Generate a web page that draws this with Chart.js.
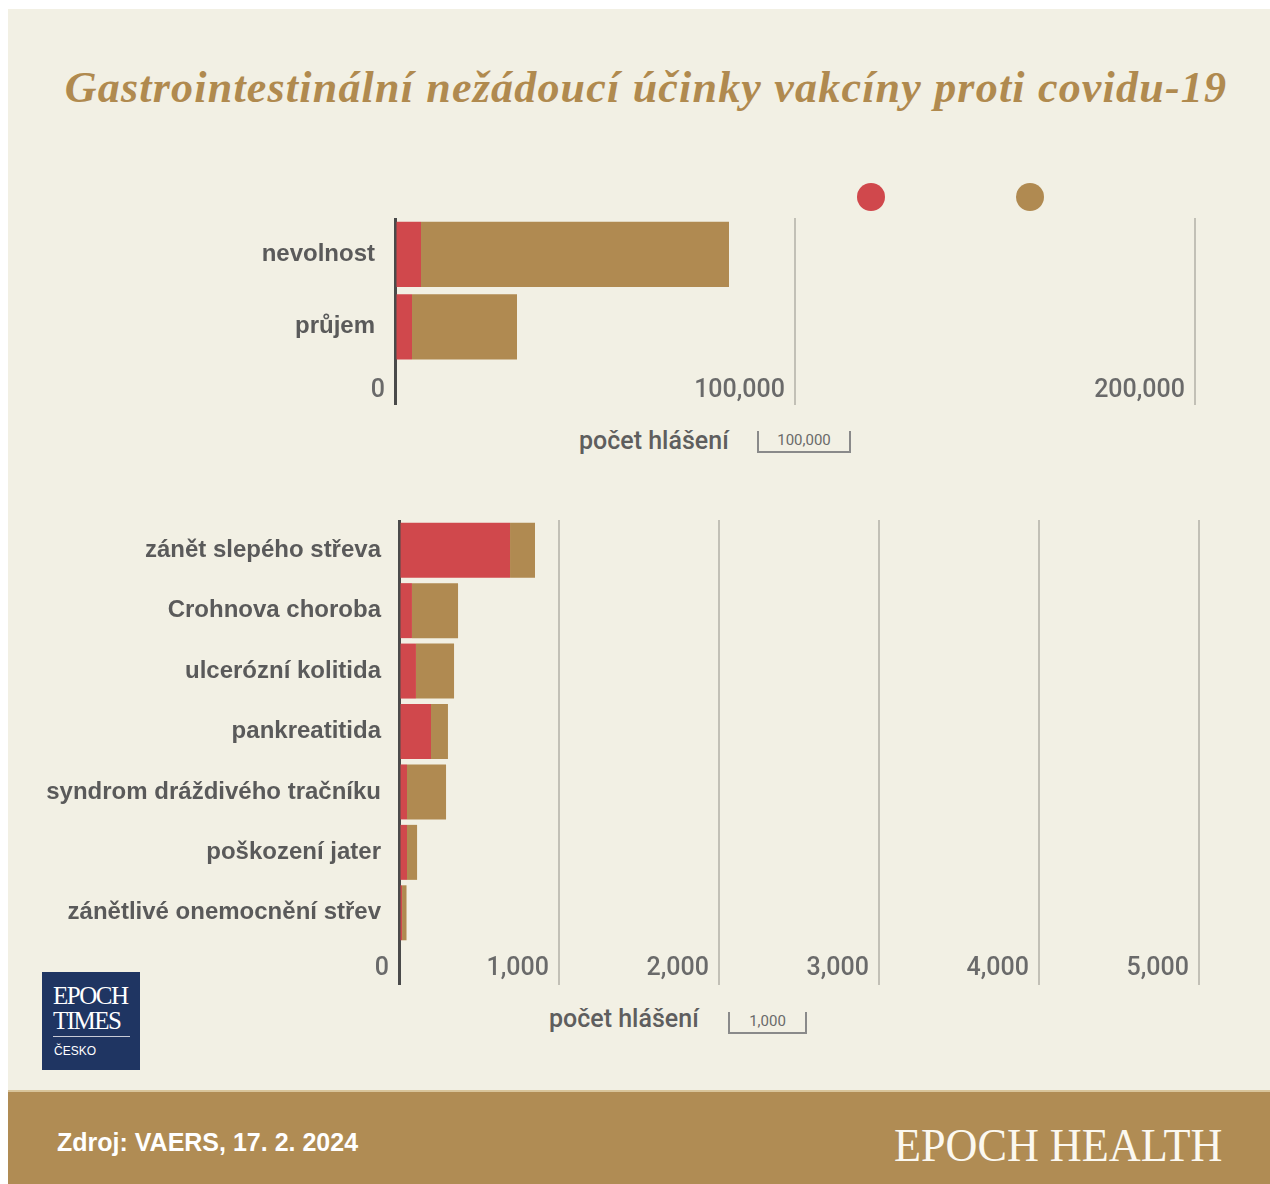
<!DOCTYPE html>
<html lang="cs">
<head>
<meta charset="utf-8">
<script src="https://cdn.jsdelivr.net/npm/chart.js@4/dist/chart.umd.min.js"></script>
<style>
  body { margin: 0; background: #fff; width: 1270px; height: 1184px; position: relative; overflow: hidden; }
  .page { position: absolute; left: 8px; top: 9px; width: 1262px; height: 1081px; background: #f2f0e4; }
  .title { position: absolute; left: 0; top: 62px; width: 1292px; text-align: center; font-family: "Liberation Serif", serif;
    font-weight: bold; font-style: italic; font-size: 44px; letter-spacing: 1.2px; color: #b08a4f; }
  .box { position: absolute; }
  .dot { position: absolute; width: 28px; height: 28px; border-radius: 50%; }
  .axtitle { position: absolute; font-family: Roboto, sans-serif; font-weight: 500; font-size: 25px; color: #5e5e5e; }
  .bracket { position: absolute; border: 2px solid #8a8a8a; border-top: none; font-family: Roboto, sans-serif;
    font-size: 15px; color: #6a6a6a; text-align: center; line-height: 18px; }
  .logo { position: absolute; left: 42px; top: 972px; width: 98px; height: 98px; background: #1f3562; color: #fff; }
  .logo .w { position: absolute; left: 11px; font-family: "Liberation Serif", serif; font-size: 25px; letter-spacing: -1.5px; line-height: 25px; }
  .logo .ln { position: absolute; left: 11px; top: 64px; width: 77px; height: 1px; background: #c8cbd6; }
  .logo .c { position: absolute; left: 12px; top: 72px; font-family: "Liberation Sans", sans-serif; font-size: 12px; }
  .footer { position: absolute; left: 8px; top: 1090px; width: 1262px; height: 94px; background: #b08c54; border-top: 2px solid #d8c49a; box-sizing: border-box; }
  .src { position: absolute; left: 49px; top: 36px; font-family: "Liberation Sans", sans-serif; font-weight: bold; font-size: 25px; color: #fff; }
  .eh { position: absolute; right: 48px; top: 26px; font-family: "Liberation Serif", serif; font-size: 47px; color: #fbf8f0;
    transform: scaleX(0.94); transform-origin: right center; }
</style>
</head>
<body>
<div class="page"></div>
<div class="title">Gastrointestinální nežádoucí účinky vakcíny proti covidu-19</div>

<div class="dot" id="dot1" style="left:857px; top:183px;"></div>
<div class="dot" id="dot2" style="left:1016px; top:183px;"></div>

<div class="box" style="left:8px; top:200px; width:1230px; height:215px;"><canvas id="chartTop"></canvas></div>
<div class="axtitle" style="left:579px; top:426px;">počet hlášení</div>
<div class="bracket" style="left:757px; top:431px; width:90px; height:20px;">100,000</div>

<div class="box" style="left:8px; top:500px; width:1230px; height:500px;"><canvas id="chartBottom"></canvas></div>
<div class="axtitle" style="left:549px; top:1004px;">počet hlášení</div>
<div class="bracket" style="left:728px; top:1012px; width:75px; height:20px;">1,000</div>

<div class="logo">
  <div class="w" style="top:11px;">EPOCH</div>
  <div class="w" style="top:36px;">TIMES</div>
  <div class="ln"></div>
  <div class="c">ČESKO</div>
</div>

<div class="footer">
  <div class="src">Zdroj: VAERS, 17. 2. 2024</div>
  <div class="eh">EPOCH HEALTH</div>
</div>

<script>
// colours
var RED = '#d0484c';
var GOLD = '#b08a51';

// data
var seriesNames = ['Série A', 'Série B'];

var topCategories = ['nevolnost', 'průjem'];
var topRed = [6500, 4250];
var topGold = [77000, 26250];
var topMax = 200000;
var topStep = 100000;

var bottomCategories = [
	'zánět slepého střeva',
	'Crohnova choroba',
	'ulcerózní kolitida',
	'pankreatitida',
	'syndrom dráždivého tračníku',
	'poškození jater',
	'zánětlivé onemocnění střev'
];
var bottomRed = [694, 81, 106, 200, 50, 50, 19];
var bottomGold = [156, 288, 238, 106, 244, 63, 28];
var bottomMax = 5000;
var bottomStep = 1000;

document.getElementById('dot1').style.background = RED;
document.getElementById('dot2').style.background = GOLD;

function fmt(v) {
	return Number(v).toLocaleString('en-US');
}

function makeChart(id, labels, red, gold, max, step, o) {
	var ctx = document.getElementById(id).getContext('2d');
	return new Chart(ctx, {
		type: 'bar',
		data: {
			labels: labels,
			datasets: [{
				label: seriesNames[0],
				data: red,
				backgroundColor: RED,
				borderWidth: 0
			}, {
				label: seriesNames[1],
				data: gold,
				backgroundColor: GOLD,
				borderWidth: 0
			}]
		},
		options: {
			indexAxis: 'y',
			responsive: true,
			maintainAspectRatio: false,
			animation: false,
			categoryPercentage: 1,
			barPercentage: o.barPct,
			layout: { padding: { top: o.padTop, right: o.padRight, left: 0, bottom: 0 } },
			plugins: {
				legend: { display: false },
				tooltip: { enabled: false }
			},
			scales: {
				x: {
					stacked: true,
					min: 0,
					max: max,
					border: { display: false },
					grid: {
						drawTicks: true,
						tickLength: 42,
						color: function(c) { return c.tick && c.tick.value === 0 ? '#4a4a4a' : '#c2c0b6'; },
						lineWidth: function(c) { return c.tick && c.tick.value === 0 ? 3 : 2; }
					},
					ticks: {
						stepSize: step,
						autoSkip: false,
						maxRotation: 0,
						align: 'end',
						labelOffset: -10,
						padding: o.tickPad,
						color: '#6a6a6a',
						font: { family: 'Roboto', size: 25, weight: '500' },
						callback: function(v) { return fmt(v); }
					},
					afterFit: function(s) {
						s.height = o.xHeight;
						s.paddingLeft = 0;
						s.paddingRight = 0;
					}
				},
				y: {
					stacked: true,
					border: { display: false },
					grid: { display: false, drawTicks: false },
					ticks: {
						padding: o.labelPad,
						color: '#5a5a5a',
						font: { family: 'Liberation Sans', size: 24, weight: 'bold' }
					},
					afterFit: function(s) {
						s.width = o.yWidth;
						s.paddingTop = 0;
						s.paddingBottom = 0;
					}
				}
			}
		}
	});
}

// top chart: axis 0 at x=395, 200,000 at x=1195
makeChart('chartTop', topCategories, topRed, topGold, topMax, topStep, {
	barPct: 0.9, padTop: 18, padRight: 43, tickPad: -29, xHeight: 52, yWidth: 387, labelPad: 20
});

// bottom chart: axis 0 at x=399, 5,000 at x=1199
makeChart('chartBottom', bottomCategories, bottomRed, bottomGold, bottomMax, bottomStep, {
	barPct: 0.91, padTop: 20, padRight: 39, tickPad: -31, xHeight: 57, yWidth: 391, labelPad: 18
});
</script>
</body>
</html>
